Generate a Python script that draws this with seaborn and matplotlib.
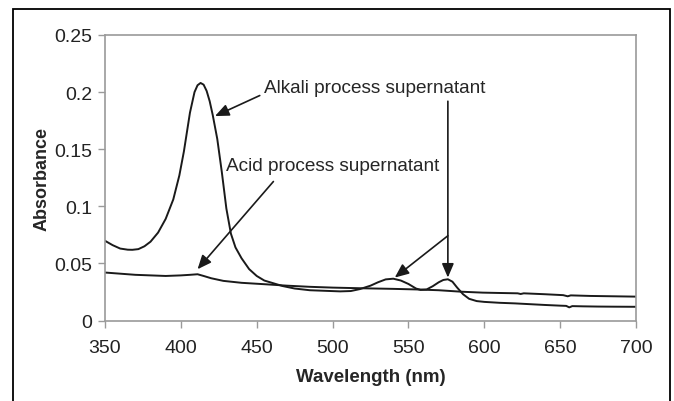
import matplotlib
matplotlib.use("Agg")
import matplotlib.pyplot as plt
import pandas as pd
import seaborn as sns
from matplotlib.patches import Rectangle

# Absorbance spectra
alkali_wl = [350, 355, 360, 365, 368, 372, 376, 380, 385, 390, 395, 399, 402, 406,
             409, 411, 413, 415, 417, 419, 421, 424, 427, 430, 433, 436, 440, 445,
             450, 455, 460, 467, 475, 485, 495, 505, 512, 518, 525, 530, 535, 540,
             545, 550, 555, 558, 562, 566, 570, 573, 576, 579, 582, 586, 590, 595,
             600, 610, 620, 630, 640, 650, 654, 656, 658, 665, 675, 685, 700]
alkali_abs = [0.0698, 0.066, 0.063, 0.062, 0.0619, 0.0625, 0.065, 0.069, 0.077, 0.089,
              0.106, 0.127, 0.148, 0.182, 0.2, 0.206, 0.208, 0.2065, 0.201, 0.192,
              0.180, 0.159, 0.130, 0.098, 0.076, 0.064, 0.0545, 0.045, 0.039, 0.035,
              0.033, 0.0302, 0.028, 0.0265, 0.026, 0.0255, 0.0258, 0.0275, 0.0305,
              0.0335, 0.036, 0.0366, 0.035, 0.032, 0.028, 0.0268, 0.0272, 0.030,
              0.0335, 0.0355, 0.0361, 0.034, 0.029, 0.023, 0.019, 0.017, 0.0163,
              0.0155, 0.015, 0.0143, 0.0136, 0.013, 0.0128, 0.0115, 0.0126, 0.0124,
              0.0122, 0.0121, 0.012]

acid_wl = [350, 360, 370, 380, 390, 400, 406, 411, 415, 420, 428, 440, 456, 470, 485,
           500, 520, 540, 555, 570, 585, 599, 610, 622, 624, 626, 640, 652, 655, 657,
           670, 685, 700]
acid_abs = [0.042, 0.041, 0.040, 0.0395, 0.039, 0.0395, 0.040, 0.0405, 0.039, 0.037,
            0.0347, 0.033, 0.0317, 0.0305, 0.0295, 0.0288, 0.0282, 0.0277, 0.0272,
            0.0265, 0.0252, 0.0244, 0.0241, 0.0238, 0.0232, 0.0238, 0.023, 0.0222,
            0.0212, 0.022, 0.0215, 0.0212, 0.0209]

x_ticks = [350, 400, 450, 500, 550, 600, 650, 700]
y_ticks = [0, 0.05, 0.1, 0.15, 0.2, 0.25]
y_ticklabels = ["0", "0.05", "0.1", "0.15", "0.2", "0.25"]

sns.set_theme(style="white")
plt.rcParams["font.family"] = ["Liberation Sans", "DejaVu Sans"]

df = pd.concat([
    pd.DataFrame({"wl": alkali_wl, "abs": alkali_abs, "sample": "Alkali"}),
    pd.DataFrame({"wl": acid_wl, "abs": acid_abs, "sample": "Acid"}),
])

fig = plt.figure(figsize=(6.74, 4.02), dpi=100)
ax = fig.add_axes([105 / 674, 1 - 321.5 / 402, (636 - 105) / 674, (321.5 - 36) / 402])

sns.lineplot(data=df, x="wl", y="abs", units="sample", estimator=None,
             color="#1a1a1a", linewidth=1.4, ax=ax, legend=False, sort=False)

ax.set_xlim(350, 700)
ax.set_ylim(0, 0.25)
ax.set_xticks(x_ticks)
ax.set_yticks(y_ticks)
ax.set_yticklabels(y_ticklabels)
ax.tick_params(axis="both", direction="out", length=5, width=1, color="#9a9a9a",
               labelsize=14, labelcolor="#222222", left=True, bottom=True)
ax.tick_params(axis="x", pad=8)
ax.tick_params(axis="y", pad=4)
for s in ax.spines.values():
    s.set_color("#9a9a9a")
    s.set_linewidth(1.2)

ax.set_xlabel("Wavelength (nm)", fontsize=13.5, fontweight="bold", labelpad=9)
ax.set_ylabel("Absorbance", fontsize=13, fontweight="bold", labelpad=3)

arrow = dict(arrowstyle="-|>,head_length=0.7,head_width=0.3", color="#1a1a1a",
             lw=1.2, shrinkA=0, shrinkB=0)
ax.text(455, 0.2036, "Alkali process supernatant", fontsize=13.7, ha="left", va="center")
ax.annotate("", xy=(422.5, 0.179), xytext=(452, 0.197), arrowprops=arrow)
ax.annotate("", xy=(576, 0.0376), xytext=(576, 0.192), arrowprops=arrow)
ax.annotate("", xy=(541, 0.0376), xytext=(576, 0.0742), arrowprops=arrow)
ax.text(500, 0.1353, "Acid process supernatant", fontsize=13.7, ha="center", va="center")
ax.annotate("", xy=(411, 0.0449), xytext=(461, 0.1217), arrowprops=arrow)

fig.add_artist(Rectangle((13 / 674, -0.05), (670 - 13) / 674, 1.05 - 10 / 402,
                         transform=fig.transFigure, fill=False, edgecolor="black",
                         linewidth=1.3))

fig.savefig("out.png", dpi=100)
